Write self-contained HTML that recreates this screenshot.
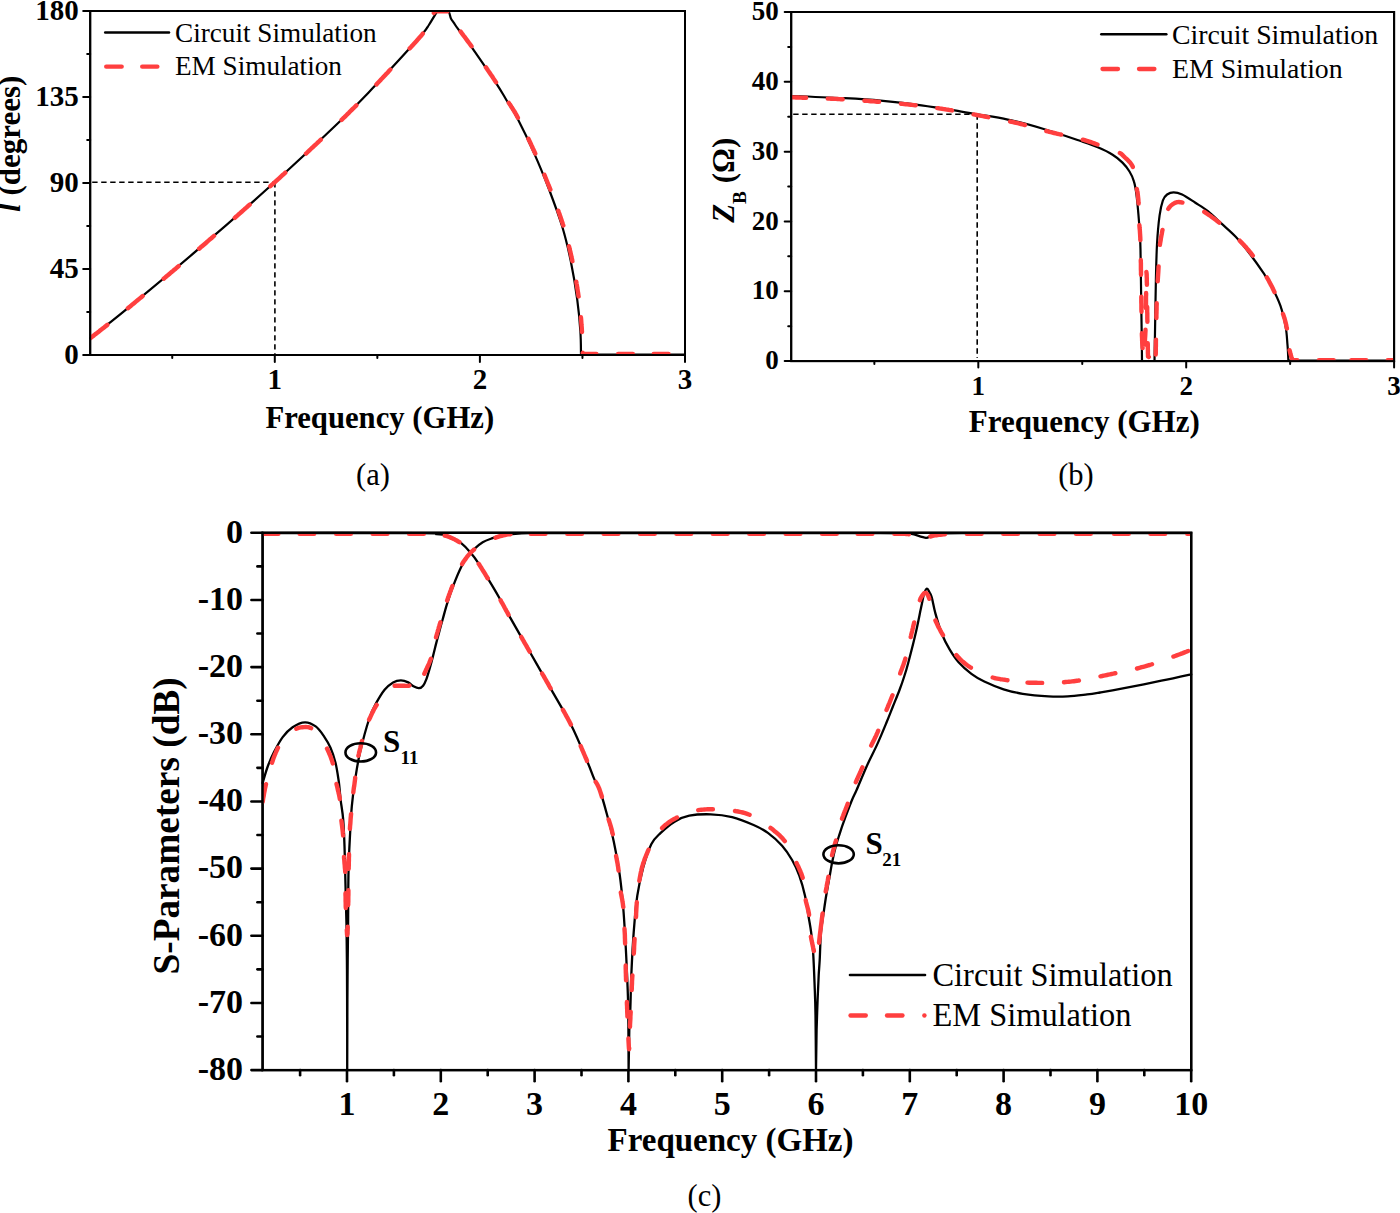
<!DOCTYPE html>
<html><head><meta charset="utf-8"><style>
html,body{margin:0;padding:0;background:#fff;}
body{width:1400px;height:1213px;overflow:hidden;}
svg{display:block;font-family:"Liberation Serif",serif;}
</style></head><body>
<svg width="1400" height="1213" viewBox="0 0 1400 1213">
<rect width="1400" height="1213" fill="#fff"/>
<defs><clipPath id="ca"><rect x="90.2" y="11" width="594.8" height="344"/></clipPath><clipPath id="cb"><rect x="791.2" y="12" width="602.9" height="349.1"/></clipPath><clipPath id="cc"><rect x="262.6" y="533.2" width="928.6" height="536.9"/></clipPath></defs>
<rect x="90.20" y="11.00" width="594.80" height="344.00" fill="none" stroke="#000" stroke-width="2"/>
<line x1="83.20" y1="355.00" x2="90.20" y2="355.00" stroke="#000" stroke-width="2" stroke-linecap="round"/>
<text x="78.70" y="363.60" font-size="29" font-weight="bold" font-style="normal" text-anchor="end">0</text>
<line x1="83.20" y1="269.00" x2="90.20" y2="269.00" stroke="#000" stroke-width="2" stroke-linecap="round"/>
<text x="78.70" y="277.60" font-size="29" font-weight="bold" font-style="normal" text-anchor="end">45</text>
<line x1="83.20" y1="183.00" x2="90.20" y2="183.00" stroke="#000" stroke-width="2" stroke-linecap="round"/>
<text x="78.70" y="191.60" font-size="29" font-weight="bold" font-style="normal" text-anchor="end">90</text>
<line x1="83.20" y1="97.00" x2="90.20" y2="97.00" stroke="#000" stroke-width="2" stroke-linecap="round"/>
<text x="78.70" y="105.60" font-size="29" font-weight="bold" font-style="normal" text-anchor="end">135</text>
<line x1="83.20" y1="11.00" x2="90.20" y2="11.00" stroke="#000" stroke-width="2" stroke-linecap="round"/>
<text x="78.70" y="19.60" font-size="29" font-weight="bold" font-style="normal" text-anchor="end">180</text>
<line x1="87.20" y1="312.00" x2="90.20" y2="312.00" stroke="#000" stroke-width="2" stroke-linecap="round"/>
<line x1="87.20" y1="226.00" x2="90.20" y2="226.00" stroke="#000" stroke-width="2" stroke-linecap="round"/>
<line x1="87.20" y1="140.00" x2="90.20" y2="140.00" stroke="#000" stroke-width="2" stroke-linecap="round"/>
<line x1="87.20" y1="54.00" x2="90.20" y2="54.00" stroke="#000" stroke-width="2" stroke-linecap="round"/>
<line x1="274.79" y1="355.00" x2="274.79" y2="362.00" stroke="#000" stroke-width="2" stroke-linecap="round"/>
<text x="274.79" y="388.60" font-size="29" font-weight="bold" font-style="normal" text-anchor="middle">1</text>
<line x1="479.90" y1="355.00" x2="479.90" y2="362.00" stroke="#000" stroke-width="2" stroke-linecap="round"/>
<text x="479.90" y="388.60" font-size="29" font-weight="bold" font-style="normal" text-anchor="middle">2</text>
<line x1="685.00" y1="355.00" x2="685.00" y2="362.00" stroke="#000" stroke-width="2" stroke-linecap="round"/>
<text x="685.00" y="388.60" font-size="29" font-weight="bold" font-style="normal" text-anchor="middle">3</text>
<line x1="172.24" y1="355.00" x2="172.24" y2="358.00" stroke="#000" stroke-width="2" stroke-linecap="round"/>
<line x1="377.34" y1="355.00" x2="377.34" y2="358.00" stroke="#000" stroke-width="2" stroke-linecap="round"/>
<line x1="582.45" y1="355.00" x2="582.45" y2="358.00" stroke="#000" stroke-width="2" stroke-linecap="round"/>
<line x1="92.20" y1="182.20" x2="274.90" y2="182.20" stroke="#000" stroke-width="1.6" stroke-linecap="butt" stroke-dasharray="5.4 3.6"/>
<line x1="274.90" y1="182.20" x2="274.90" y2="354.00" stroke="#000" stroke-width="1.6" stroke-linecap="butt" stroke-dasharray="5.4 3.6"/>
<path d="M90.2,338.0 C96.2,333.3 108.5,324.0 126.0,309.6 C143.5,295.2 170.6,272.9 195.4,251.7 C220.2,230.5 250.5,204.0 274.6,182.3 C298.7,160.6 323.3,137.3 340.0,121.3 C356.7,105.3 363.3,98.0 374.7,86.1 C386.1,74.2 400.0,59.0 408.1,50.1 C416.2,41.2 420.1,36.7 423.6,32.5 C427.1,28.3 427.1,27.7 428.9,25.0 C430.7,22.3 432.9,18.4 434.3,16.1 C435.7,13.9 436.6,12.3 437.0,11.5 L437.0,11.5 L448.5,11.5 L448.5,11.5 C448.7,11.8 449.1,12.3 449.5,13.5 C449.9,14.7 450.3,17.0 451.0,18.6 C451.7,20.2 452.7,21.1 453.9,22.9 C455.1,24.7 455.3,25.3 458.2,29.2 C461.1,33.1 464.9,37.4 471.1,46.3 C477.3,55.1 489.7,73.3 495.6,82.3 C501.5,91.2 502.8,94.0 506.4,100.0 C510.0,106.0 512.8,109.4 517.4,118.3 C522.0,127.2 529.0,141.7 534.3,153.6 C539.6,165.5 544.6,177.8 549.3,190.0 C553.9,202.2 558.6,214.7 562.2,226.5 C565.8,238.3 568.2,248.7 570.7,260.8 C573.2,272.9 575.6,287.6 577.2,299.4 C578.8,311.2 579.8,322.3 580.4,331.5 C581.0,340.7 580.9,350.7 581.0,354.5 L581.0,354.5 L685.0,354.5" fill="none" stroke="#000" stroke-width="2.2" stroke-linejoin="round" stroke-linecap="round"/>
<path d="M90.2,338.3 L91.5,337.2 L92.9,336.2 L94.1,335.2 L95.5,334.1 L96.7,333.2 L98.0,332.2 L99.3,331.2 L100.7,330.0 L102.2,328.9 L103.4,327.9 L104.7,326.9 L105.0,326.7 M92.5,336.5 L93.7,335.5 L95.0,334.5 L96.5,333.4 L97.7,332.4 L99.0,331.4 L100.4,330.3 L101.9,329.1 L103.1,328.2 L104.4,327.2 L105.7,326.1 L107.1,325.1 L107.4,324.8 M127.9,308.2 L129.1,307.2 L130.4,306.2 L131.7,305.1 L133.0,304.1 L134.3,303.0 L135.6,301.9 L137.0,300.7 L138.4,299.6 L139.8,298.4 L141.3,297.2 L142.4,296.3 L142.7,296.0 M163.7,278.7 L165.0,277.6 L166.3,276.5 L167.6,275.4 L169.0,274.3 L170.3,273.1 L171.6,272.0 L173.0,270.9 L174.3,269.8 L175.7,268.7 L177.0,267.5 L178.3,266.4 L178.7,266.1 M199.1,248.7 L200.3,247.7 L201.4,246.7 L202.6,245.7 L203.8,244.7 L205.0,243.7 L206.2,242.7 L207.3,241.6 L208.5,240.6 L209.7,239.5 L211.0,238.5 L212.2,237.5 L213.4,236.4 L214.0,235.9 M234.8,217.8 L236.0,216.7 L237.3,215.6 L238.5,214.5 L239.8,213.4 L241.0,212.3 L242.3,211.2 L243.5,210.1 L244.7,209.0 L246.0,207.9 L247.2,206.8 L248.4,205.7 L249.7,204.6 M270.4,186.2 L271.5,185.2 L272.7,184.1 L274.0,182.9 L275.2,181.8 L276.5,180.6 L277.8,179.5 L279.1,178.3 L280.4,177.1 L281.7,175.9 L283.0,174.7 L284.3,173.6 L285.3,172.7 M306.0,153.6 L307.2,152.5 L308.4,151.3 L309.6,150.2 L310.8,149.0 L312.0,147.9 L313.2,146.8 L314.4,145.7 L315.6,144.6 L316.8,143.5 L317.9,142.4 L319.1,141.3 L320.2,140.2 L320.8,139.7 M341.6,119.9 L342.8,118.7 L343.9,117.7 L345.0,116.6 L346.4,115.2 L347.7,113.9 L349.1,112.6 L350.3,111.3 L351.5,110.1 L352.7,108.9 L353.9,107.8 L355.0,106.7 L356.1,105.6 L356.4,105.3 M376.4,84.4 L377.5,83.2 L378.7,82.0 L379.9,80.8 L381.0,79.5 L382.2,78.3 L383.4,77.0 L384.6,75.7 L385.8,74.4 L387.0,73.2 L388.2,71.9 L389.4,70.6 L390.3,69.6 M409.7,48.4 L410.9,47.2 L411.9,46.0 L412.9,44.9 L414.2,43.5 L415.4,42.2 L416.5,41.0 L417.5,39.8 L418.7,38.5 L419.8,37.2 L420.9,36.0 L421.9,34.8 L422.8,33.6 M433.8,12.9 L434.3,11.4 L435.9,11.4 L437.6,11.4 L439.2,11.4 L440.9,11.4 L442.5,11.4 L444.1,11.4 L445.8,11.4 L447.4,11.4 M460.6,31.5 L461.5,32.8 L462.5,34.2 L463.6,35.6 L464.6,36.8 L465.6,38.2 L466.6,39.6 L467.7,41.1 L468.9,42.7 L469.9,44.0 L470.8,45.3 L471.5,46.3 M485.9,67.3 L486.9,68.8 L487.9,70.3 L488.9,71.7 L489.9,73.1 L490.8,74.5 L491.7,75.8 L492.6,77.1 L493.4,78.4 L494.4,79.9 L495.3,81.3 L496.0,82.3 M508.8,102.9 L509.8,104.4 L510.8,105.8 L511.7,107.3 L512.7,108.8 L513.5,110.1 L514.4,111.5 L515.3,113.0 L516.2,114.6 L517.2,116.4 L517.9,117.8 M528.4,138.7 L529.1,140.2 L529.8,141.8 L530.6,143.3 L531.3,144.9 L532.0,146.4 L532.7,148.0 L533.4,149.5 L534.1,151.0 L534.8,152.5 L535.3,153.6 M544.4,174.7 L545.0,176.2 L545.6,177.7 L546.2,179.2 L546.8,180.7 L547.4,182.2 L548.0,183.7 L548.6,185.2 L549.2,186.6 L549.8,188.1 L550.4,189.6 M558.3,210.7 L558.8,212.2 L559.4,213.7 L559.9,215.3 L560.4,216.8 L560.9,218.3 L561.4,219.8 L561.9,221.3 L562.4,222.8 L562.9,224.3 L563.3,225.4 M569.0,246.2 L569.4,247.7 L569.7,249.3 L570.1,250.8 L570.5,252.4 L570.8,253.9 L571.2,255.5 L571.5,257.1 L571.9,258.7 L572.2,260.4 L572.4,261.2 M576.3,281.7 L576.5,283.3 L576.8,285.0 L577.1,286.6 L577.3,288.2 L577.6,289.8 L577.8,291.4 L578.1,293.0 L578.3,294.5 L578.5,296.0 L578.6,296.4 M580.9,317.3 L581.1,318.9 L581.2,320.5 L581.3,322.0 L581.4,323.5 L581.5,325.1 L581.7,326.9 L581.8,328.7 L581.9,330.5 L582.0,332.0 M582.8,352.9 L584.0,354.0 L585.6,354.0 L587.2,354.0 L588.8,354.0 L590.4,354.0 L592.0,354.0 L593.6,354.0 L595.2,354.0 L596.4,354.0 M618.1,354.0 L619.7,354.0 L621.3,354.0 L622.9,354.0 L624.5,354.0 L626.1,354.0 L627.7,354.0 L629.3,354.0 L630.9,354.0 L632.5,354.0 L632.9,354.0 M653.7,354.0 L655.3,354.0 L656.9,354.0 L658.5,354.0 L660.2,354.0 L661.8,354.0 L663.4,354.0 L665.0,354.0 L666.6,354.0 L668.2,354.0 L668.6,354.0" fill="none" stroke="#ff3f3f" stroke-width="4.4" stroke-linecap="round" stroke-linejoin="round" clip-path="url(#ca)"/>
<rect x="90.20" y="11.00" width="594.80" height="344.00" fill="none" stroke="#000" stroke-width="2"/>
<line x1="105.20" y1="32.40" x2="169.00" y2="32.40" stroke="#000" stroke-width="2.5" stroke-linecap="round"/>
<line x1="106.20" y1="66.70" x2="121.70" y2="66.70" stroke="#ff3f3f" stroke-width="4.3" stroke-linecap="round"/>
<line x1="142.20" y1="66.70" x2="157.40" y2="66.70" stroke="#ff3f3f" stroke-width="4.3" stroke-linecap="round"/>
<text x="175.00" y="41.70" font-size="27.2" font-weight="normal" font-style="normal" text-anchor="start">Circuit Simulation</text>
<text x="175.00" y="74.90" font-size="27.2" font-weight="normal" font-style="normal" text-anchor="start">EM Simulation</text>
<text x="379.80" y="427.80" font-size="30.7" font-weight="bold" font-style="normal" text-anchor="middle">Frequency (GHz)</text>
<text x="373.00" y="485.00" font-size="30.5" font-weight="normal" font-style="normal" text-anchor="middle">(a)</text>
<text transform="translate(20.1,143.8) rotate(-90)" text-anchor="middle" font-size="31" font-weight="bold"><tspan font-style="italic">l</tspan> (degrees)</text>
<rect x="791.20" y="12.00" width="602.90" height="349.10" fill="none" stroke="#000" stroke-width="2"/>
<line x1="784.70" y1="361.10" x2="791.20" y2="361.10" stroke="#000" stroke-width="2" stroke-linecap="round"/>
<text x="778.70" y="369.30" font-size="27" font-weight="bold" font-style="normal" text-anchor="end">0</text>
<line x1="784.70" y1="291.28" x2="791.20" y2="291.28" stroke="#000" stroke-width="2" stroke-linecap="round"/>
<text x="778.70" y="299.48" font-size="27" font-weight="bold" font-style="normal" text-anchor="end">10</text>
<line x1="784.70" y1="221.46" x2="791.20" y2="221.46" stroke="#000" stroke-width="2" stroke-linecap="round"/>
<text x="778.70" y="229.66" font-size="27" font-weight="bold" font-style="normal" text-anchor="end">20</text>
<line x1="784.70" y1="151.64" x2="791.20" y2="151.64" stroke="#000" stroke-width="2" stroke-linecap="round"/>
<text x="778.70" y="159.84" font-size="27" font-weight="bold" font-style="normal" text-anchor="end">30</text>
<line x1="784.70" y1="81.82" x2="791.20" y2="81.82" stroke="#000" stroke-width="2" stroke-linecap="round"/>
<text x="778.70" y="90.02" font-size="27" font-weight="bold" font-style="normal" text-anchor="end">40</text>
<line x1="784.70" y1="12.00" x2="791.20" y2="12.00" stroke="#000" stroke-width="2" stroke-linecap="round"/>
<text x="778.70" y="20.20" font-size="27" font-weight="bold" font-style="normal" text-anchor="end">50</text>
<line x1="788.20" y1="326.19" x2="791.20" y2="326.19" stroke="#000" stroke-width="2" stroke-linecap="round"/>
<line x1="788.20" y1="256.37" x2="791.20" y2="256.37" stroke="#000" stroke-width="2" stroke-linecap="round"/>
<line x1="788.20" y1="186.55" x2="791.20" y2="186.55" stroke="#000" stroke-width="2" stroke-linecap="round"/>
<line x1="788.20" y1="116.73" x2="791.20" y2="116.73" stroke="#000" stroke-width="2" stroke-linecap="round"/>
<line x1="788.20" y1="46.91" x2="791.20" y2="46.91" stroke="#000" stroke-width="2" stroke-linecap="round"/>
<line x1="978.31" y1="361.10" x2="978.31" y2="367.60" stroke="#000" stroke-width="2" stroke-linecap="round"/>
<text x="978.31" y="395.00" font-size="27" font-weight="bold" font-style="normal" text-anchor="middle">1</text>
<line x1="1186.20" y1="361.10" x2="1186.20" y2="367.60" stroke="#000" stroke-width="2" stroke-linecap="round"/>
<text x="1186.20" y="395.00" font-size="27" font-weight="bold" font-style="normal" text-anchor="middle">2</text>
<line x1="1394.10" y1="361.10" x2="1394.10" y2="367.60" stroke="#000" stroke-width="2" stroke-linecap="round"/>
<text x="1394.10" y="395.00" font-size="27" font-weight="bold" font-style="normal" text-anchor="middle">3</text>
<line x1="874.36" y1="361.10" x2="874.36" y2="364.10" stroke="#000" stroke-width="2" stroke-linecap="round"/>
<line x1="1082.26" y1="361.10" x2="1082.26" y2="364.10" stroke="#000" stroke-width="2" stroke-linecap="round"/>
<line x1="1290.15" y1="361.10" x2="1290.15" y2="364.10" stroke="#000" stroke-width="2" stroke-linecap="round"/>
<line x1="793.20" y1="114.30" x2="977.20" y2="114.30" stroke="#000" stroke-width="1.6" stroke-linecap="butt" stroke-dasharray="5.4 3.6"/>
<line x1="977.20" y1="114.30" x2="977.20" y2="358.10" stroke="#000" stroke-width="1.6" stroke-linecap="butt" stroke-dasharray="5.4 3.6"/>
<path d="M791.2,96.0 C799.8,96.3 828.0,97.3 842.9,98.1 C857.8,98.9 867.5,99.4 880.6,100.6 C893.7,101.8 908.2,103.5 921.4,105.3 C934.6,107.1 950.7,109.8 960.0,111.3 C969.3,112.8 969.0,112.9 977.0,114.3 C985.0,115.7 996.7,117.1 1007.8,119.6 C1018.9,122.0 1031.7,125.5 1043.7,129.0 C1055.7,132.5 1071.0,137.8 1080.0,140.8 C1089.0,143.9 1092.4,145.0 1097.8,147.3 C1103.2,149.6 1108.5,152.1 1112.6,154.7 C1116.7,157.2 1119.7,159.8 1122.5,162.6 C1125.3,165.4 1127.6,168.4 1129.5,171.5 C1131.4,174.6 1132.8,177.6 1133.9,181.4 C1135.1,185.2 1135.7,188.9 1136.4,194.3 C1137.2,199.8 1137.8,207.5 1138.4,214.1 C1139.0,220.7 1139.5,227.9 1139.8,233.9 C1140.1,239.9 1140.3,239.0 1140.5,250.0 C1140.7,261.0 1141.0,285.0 1141.2,300.0 C1141.4,315.0 1141.7,329.8 1141.8,340.0 C1141.9,350.2 1142.0,357.5 1142.0,361.0 L1142.0,361.0 L1154.5,361.0 L1154.5,361.0 C1154.6,354.2 1155.0,333.6 1155.2,320.0 C1155.4,306.4 1155.6,292.2 1155.9,279.6 C1156.2,267.0 1156.4,255.0 1157.0,244.3 C1157.6,233.6 1158.6,222.7 1159.6,215.4 C1160.6,208.1 1161.7,203.9 1162.9,200.4 C1164.2,196.9 1165.3,195.8 1167.1,194.5 C1168.9,193.2 1171.1,192.3 1173.6,192.3 C1176.1,192.3 1178.5,192.8 1182.1,194.5 C1185.7,196.2 1190.7,199.7 1195.0,202.5 C1199.3,205.3 1203.6,207.7 1207.9,211.1 C1212.2,214.5 1216.1,218.6 1220.7,222.9 C1225.3,227.2 1230.7,231.5 1235.7,236.8 C1240.7,242.2 1246.1,248.9 1250.7,255.0 C1255.3,261.1 1260.1,268.0 1263.6,273.2 C1267.0,278.4 1268.6,280.6 1271.4,286.0 C1274.2,291.4 1278.0,298.8 1280.4,305.7 C1282.8,312.6 1284.5,320.6 1285.7,327.1 C1286.9,333.7 1287.0,339.4 1287.5,345.0 C1288.0,350.6 1288.2,357.9 1288.4,360.5 L1288.4,360.5 L1393.0,360.5" fill="none" stroke="#000" stroke-width="2.2" stroke-linejoin="round" stroke-linecap="round"/>
<path d="M791.2,97.3 L792.8,97.4 L794.4,97.4 L796.0,97.5 L797.7,97.5 L799.5,97.6 L801.1,97.6 L802.7,97.7 L804.4,97.7 L806.1,97.8 M791.4,97.3 L793.1,97.4 L794.7,97.4 L796.3,97.5 L798.1,97.5 L799.9,97.6 L801.5,97.6 L803.1,97.7 L804.8,97.8 L806.1,97.8 M827.7,98.6 L829.4,98.6 L831.1,98.7 L832.7,98.8 L834.3,98.9 L835.9,98.9 L837.6,99.0 L839.3,99.1 L841.0,99.2 L842.7,99.3 M864.4,100.7 L865.9,100.8 L867.5,100.9 L869.1,101.0 L870.7,101.2 L872.3,101.3 L873.9,101.4 L875.5,101.5 L877.1,101.7 L878.7,101.8 L879.1,101.8 M900.9,103.7 L902.5,103.9 L904.1,104.1 L905.7,104.2 L907.3,104.4 L908.9,104.6 L910.5,104.7 L912.1,104.9 L913.7,105.1 L915.3,105.3 L915.7,105.3 M937.3,108.1 L938.9,108.3 L940.5,108.6 L942.2,108.8 L943.8,109.1 L945.3,109.3 L946.9,109.6 L948.5,109.8 L950.1,110.1 L951.6,110.3 L952.0,110.4 M973.6,114.4 L975.1,114.7 L976.7,115.0 L978.3,115.3 L979.8,115.6 L981.4,115.9 L983.0,116.2 L984.6,116.5 L986.3,116.8 L987.9,117.1 L988.3,117.2 M1010.1,121.5 L1011.6,121.8 L1013.2,122.1 L1014.7,122.5 L1016.2,122.8 L1017.8,123.2 L1019.4,123.6 L1021.0,124.0 L1022.6,124.4 L1024.2,124.8 L1025.0,125.0 M1046.3,131.0 L1047.8,131.4 L1049.3,131.8 L1050.8,132.2 L1052.5,132.6 L1054.1,133.0 L1055.8,133.4 L1057.5,133.8 L1059.1,134.2 L1060.8,134.5 L1061.2,134.6 M1082.8,139.7 L1084.6,140.2 L1086.2,140.7 L1087.7,141.1 L1089.1,141.6 L1090.9,142.2 L1092.6,142.8 L1094.3,143.4 L1096.0,144.0 L1097.5,144.5 M1119.9,153.0 L1121.3,153.9 L1122.6,155.1 L1123.7,156.2 L1125.0,157.5 L1126.2,158.6 L1127.4,159.7 L1128.6,160.9 L1129.8,162.2 L1130.8,163.5 L1131.7,164.8 L1132.5,166.2 L1132.8,166.9 M1136.8,188.9 L1137.1,190.4 L1137.5,192.1 L1137.7,193.7 L1137.9,195.5 L1138.1,197.3 L1138.3,198.9 L1138.4,200.6 L1138.5,202.5 L1138.6,203.5 M1139.4,225.1 L1139.5,226.6 L1139.6,228.1 L1139.8,229.6 L1139.9,231.2 L1140.0,232.8 L1140.1,234.4 L1140.2,236.1 L1140.3,237.8 L1140.3,239.4 L1140.4,240.1 M1140.8,260.0 L1140.8,261.6 L1140.9,263.3 L1140.9,265.1 L1140.9,266.6 L1140.9,268.2 L1140.9,269.7 L1141.0,271.4 L1141.0,273.0 L1141.0,274.7 M1141.3,296.7 L1141.3,298.6 L1141.3,300.5 L1141.3,302.3 L1141.4,304.1 L1141.4,306.0 L1141.4,307.7 L1141.4,309.5 L1141.5,311.2 L1141.5,311.7 M1141.9,333.2 L1141.9,335.1 L1142.0,336.9 L1142.1,338.6 L1142.1,340.1 L1142.2,342.0 L1142.3,343.7 L1142.4,345.4 L1142.5,347.0 L1142.6,348.1 M1144.7,344.5 L1144.8,342.7 L1144.9,340.8 L1145.0,339.2 L1145.1,337.7 L1145.2,336.0 L1145.3,334.3 L1145.4,332.5 L1145.5,330.6 L1145.5,329.7 M1145.9,308.0 L1145.9,306.4 L1146.0,304.8 L1146.0,303.1 L1146.0,301.5 L1146.0,299.9 L1146.0,298.3 L1146.0,296.7 L1146.1,295.1 L1146.1,293.6 L1146.1,293.0 M1146.4,272.0 L1146.6,273.5 L1146.7,275.0 L1146.7,276.5 L1146.8,278.2 L1146.8,280.1 L1146.8,281.7 L1146.9,283.4 L1146.9,284.7 M1147.2,306.9 L1147.2,308.5 L1147.2,310.1 L1147.2,311.7 L1147.3,313.2 L1147.3,314.7 L1147.3,316.7 L1147.3,318.6 L1147.4,320.5 L1147.4,321.8 M1147.7,343.1 L1147.8,344.9 L1147.8,346.6 L1147.8,348.2 L1147.9,350.0 L1147.9,351.6 L1147.9,353.1 L1148.0,354.7 L1148.0,356.4 L1148.8,357.0 M1155.7,354.5 L1155.8,353.0 L1155.8,351.3 L1155.8,349.4 L1155.8,347.8 L1155.9,346.1 L1155.9,344.4 L1155.9,342.6 L1155.9,340.8 L1156.0,339.8 M1156.4,318.1 L1156.4,316.3 L1156.4,314.6 L1156.5,312.9 L1156.5,311.2 L1156.6,309.5 L1156.6,307.8 L1156.6,306.1 L1156.7,304.5 L1156.7,303.3 M1157.7,281.3 L1157.8,279.7 L1157.9,278.1 L1158.0,276.5 L1158.1,275.0 L1158.2,273.5 L1158.3,272.0 L1158.4,270.1 L1158.5,268.3 L1158.6,266.4 M1159.9,244.9 L1160.1,243.3 L1160.4,241.6 L1160.7,240.0 L1160.9,238.3 L1161.2,236.8 L1161.5,235.2 L1161.8,233.7 L1162.1,231.9 L1162.4,230.4 L1162.5,230.0 M1168.3,208.9 L1169.2,207.5 L1170.2,206.3 L1171.3,205.2 L1172.7,204.2 L1174.2,203.3 L1175.7,202.6 L1177.2,202.1 L1178.8,202.0 L1180.3,202.2 L1182.1,202.5 L1182.4,202.6 M1204.3,211.8 L1205.8,212.8 L1207.1,213.7 L1208.4,214.6 L1209.7,215.5 L1211.1,216.4 L1212.4,217.4 L1213.9,218.5 L1215.3,219.6 L1216.8,220.7 L1218.1,221.7 L1219.2,222.6 M1239.8,240.7 L1240.9,241.9 L1242.1,243.1 L1243.2,244.2 L1244.2,245.4 L1245.3,246.5 L1246.3,247.6 L1247.3,248.8 L1248.3,250.0 L1249.3,251.2 L1250.3,252.4 L1251.3,253.7 L1252.3,255.0 L1252.8,255.6 M1266.8,277.3 L1267.7,278.8 L1268.5,280.2 L1269.2,281.6 L1270.0,283.1 L1270.7,284.5 L1271.5,285.8 L1272.2,287.2 L1272.8,288.6 L1273.5,290.0 L1274.2,291.4 L1274.5,292.1 M1283.0,313.9 L1283.5,315.4 L1284.0,316.9 L1284.5,318.3 L1284.9,319.8 L1285.3,321.3 L1285.7,322.9 L1286.1,324.5 L1286.4,326.2 L1286.7,327.8 L1286.9,328.5 M1289.6,350.2 L1290.0,351.7 L1290.4,353.6 L1290.9,355.3 L1291.4,356.9 L1292.0,358.5 L1292.4,360.0 L1294.1,360.2 L1295.7,360.2 L1297.3,360.2 M1318.9,360.2 L1320.5,360.2 L1322.1,360.2 L1323.7,360.2 L1325.3,360.2 L1326.9,360.2 L1328.5,360.2 L1330.1,360.2 L1331.7,360.2 L1333.3,360.2 L1333.7,360.2 M1351.4,360.2 L1353.0,360.2 L1354.6,360.2 L1356.2,360.2 L1357.8,360.2 L1359.4,360.2 L1361.0,360.2 L1362.6,360.2 L1364.2,360.2 L1365.8,360.2 L1366.2,360.2 M1387.8,360.2 L1389.4,360.2 L1391.0,360.2 L1392.6,360.2 L1393.0,360.2" fill="none" stroke="#ff3f3f" stroke-width="4.4" stroke-linecap="round" stroke-linejoin="round" clip-path="url(#cb)"/>
<rect x="791.20" y="12.00" width="602.90" height="349.10" fill="none" stroke="#000" stroke-width="2"/>
<line x1="1101.30" y1="34.30" x2="1166.30" y2="34.30" stroke="#000" stroke-width="2.5" stroke-linecap="round"/>
<line x1="1102.50" y1="69.00" x2="1118.00" y2="69.00" stroke="#ff3f3f" stroke-width="4.3" stroke-linecap="round"/>
<line x1="1139.00" y1="69.00" x2="1154.40" y2="69.00" stroke="#ff3f3f" stroke-width="4.3" stroke-linecap="round"/>
<text x="1172.00" y="43.90" font-size="27.8" font-weight="normal" font-style="normal" text-anchor="start">Circuit Simulation</text>
<text x="1172.00" y="78.20" font-size="27.8" font-weight="normal" font-style="normal" text-anchor="start">EM Simulation</text>
<text x="1084.30" y="431.60" font-size="31" font-weight="bold" font-style="normal" text-anchor="middle">Frequency (GHz)</text>
<text x="1076.00" y="484.80" font-size="30.5" font-weight="normal" font-style="normal" text-anchor="middle">(b)</text>
<text transform="translate(733.8,180.3) rotate(-90)" text-anchor="middle" font-size="31" font-weight="bold"><tspan font-style="italic">Z</tspan><tspan font-size="19.3" dy="12.4">B</tspan><tspan dy="-12.4"> (Ω)</tspan></text>
<rect x="262.60" y="532.80" width="928.60" height="537.30" fill="none" stroke="#000" stroke-width="2.3"/>
<line x1="251.40" y1="532.80" x2="262.60" y2="532.80" stroke="#000" stroke-width="2.6" stroke-linecap="round"/>
<text transform="translate(243.10 542.60) scale(1 1.020)" font-size="34" font-weight="bold" font-style="normal" text-anchor="end">0</text>
<line x1="251.40" y1="599.96" x2="262.60" y2="599.96" stroke="#000" stroke-width="2.6" stroke-linecap="round"/>
<text transform="translate(243.10 609.76) scale(1 1.020)" font-size="34" font-weight="bold" font-style="normal" text-anchor="end">-10</text>
<line x1="251.40" y1="667.12" x2="262.60" y2="667.12" stroke="#000" stroke-width="2.6" stroke-linecap="round"/>
<text transform="translate(243.10 676.92) scale(1 1.020)" font-size="34" font-weight="bold" font-style="normal" text-anchor="end">-20</text>
<line x1="251.40" y1="734.29" x2="262.60" y2="734.29" stroke="#000" stroke-width="2.6" stroke-linecap="round"/>
<text transform="translate(243.10 744.09) scale(1 1.020)" font-size="34" font-weight="bold" font-style="normal" text-anchor="end">-30</text>
<line x1="251.40" y1="801.45" x2="262.60" y2="801.45" stroke="#000" stroke-width="2.6" stroke-linecap="round"/>
<text transform="translate(243.10 811.25) scale(1 1.020)" font-size="34" font-weight="bold" font-style="normal" text-anchor="end">-40</text>
<line x1="251.40" y1="868.61" x2="262.60" y2="868.61" stroke="#000" stroke-width="2.6" stroke-linecap="round"/>
<text transform="translate(243.10 878.41) scale(1 1.020)" font-size="34" font-weight="bold" font-style="normal" text-anchor="end">-50</text>
<line x1="251.40" y1="935.77" x2="262.60" y2="935.77" stroke="#000" stroke-width="2.6" stroke-linecap="round"/>
<text transform="translate(243.10 945.57) scale(1 1.020)" font-size="34" font-weight="bold" font-style="normal" text-anchor="end">-60</text>
<line x1="251.40" y1="1002.94" x2="262.60" y2="1002.94" stroke="#000" stroke-width="2.6" stroke-linecap="round"/>
<text transform="translate(243.10 1012.74) scale(1 1.020)" font-size="34" font-weight="bold" font-style="normal" text-anchor="end">-70</text>
<line x1="251.40" y1="1070.10" x2="262.60" y2="1070.10" stroke="#000" stroke-width="2.6" stroke-linecap="round"/>
<text transform="translate(243.10 1079.90) scale(1 1.020)" font-size="34" font-weight="bold" font-style="normal" text-anchor="end">-80</text>
<line x1="257.40" y1="566.38" x2="262.60" y2="566.38" stroke="#000" stroke-width="2.6" stroke-linecap="round"/>
<line x1="257.40" y1="633.54" x2="262.60" y2="633.54" stroke="#000" stroke-width="2.6" stroke-linecap="round"/>
<line x1="257.40" y1="700.71" x2="262.60" y2="700.71" stroke="#000" stroke-width="2.6" stroke-linecap="round"/>
<line x1="257.40" y1="767.87" x2="262.60" y2="767.87" stroke="#000" stroke-width="2.6" stroke-linecap="round"/>
<line x1="257.40" y1="835.03" x2="262.60" y2="835.03" stroke="#000" stroke-width="2.6" stroke-linecap="round"/>
<line x1="257.40" y1="902.19" x2="262.60" y2="902.19" stroke="#000" stroke-width="2.6" stroke-linecap="round"/>
<line x1="257.40" y1="969.36" x2="262.60" y2="969.36" stroke="#000" stroke-width="2.6" stroke-linecap="round"/>
<line x1="257.40" y1="1036.52" x2="262.60" y2="1036.52" stroke="#000" stroke-width="2.6" stroke-linecap="round"/>
<line x1="347.00" y1="1070.10" x2="347.00" y2="1081.20" stroke="#000" stroke-width="2.6" stroke-linecap="round"/>
<text transform="translate(347.00 1114.90) scale(1 1.020)" font-size="34" font-weight="bold" font-style="normal" text-anchor="middle">1</text>
<line x1="440.80" y1="1070.10" x2="440.80" y2="1081.20" stroke="#000" stroke-width="2.6" stroke-linecap="round"/>
<text transform="translate(440.80 1114.90) scale(1 1.020)" font-size="34" font-weight="bold" font-style="normal" text-anchor="middle">2</text>
<line x1="534.60" y1="1070.10" x2="534.60" y2="1081.20" stroke="#000" stroke-width="2.6" stroke-linecap="round"/>
<text transform="translate(534.60 1114.90) scale(1 1.020)" font-size="34" font-weight="bold" font-style="normal" text-anchor="middle">3</text>
<line x1="628.40" y1="1070.10" x2="628.40" y2="1081.20" stroke="#000" stroke-width="2.6" stroke-linecap="round"/>
<text transform="translate(628.40 1114.90) scale(1 1.020)" font-size="34" font-weight="bold" font-style="normal" text-anchor="middle">4</text>
<line x1="722.20" y1="1070.10" x2="722.20" y2="1081.20" stroke="#000" stroke-width="2.6" stroke-linecap="round"/>
<text transform="translate(722.20 1114.90) scale(1 1.020)" font-size="34" font-weight="bold" font-style="normal" text-anchor="middle">5</text>
<line x1="816.00" y1="1070.10" x2="816.00" y2="1081.20" stroke="#000" stroke-width="2.6" stroke-linecap="round"/>
<text transform="translate(816.00 1114.90) scale(1 1.020)" font-size="34" font-weight="bold" font-style="normal" text-anchor="middle">6</text>
<line x1="909.80" y1="1070.10" x2="909.80" y2="1081.20" stroke="#000" stroke-width="2.6" stroke-linecap="round"/>
<text transform="translate(909.80 1114.90) scale(1 1.020)" font-size="34" font-weight="bold" font-style="normal" text-anchor="middle">7</text>
<line x1="1003.60" y1="1070.10" x2="1003.60" y2="1081.20" stroke="#000" stroke-width="2.6" stroke-linecap="round"/>
<text transform="translate(1003.60 1114.90) scale(1 1.020)" font-size="34" font-weight="bold" font-style="normal" text-anchor="middle">8</text>
<line x1="1097.40" y1="1070.10" x2="1097.40" y2="1081.20" stroke="#000" stroke-width="2.6" stroke-linecap="round"/>
<text transform="translate(1097.40 1114.90) scale(1 1.020)" font-size="34" font-weight="bold" font-style="normal" text-anchor="middle">9</text>
<line x1="1191.20" y1="1070.10" x2="1191.20" y2="1081.20" stroke="#000" stroke-width="2.6" stroke-linecap="round"/>
<text transform="translate(1191.20 1114.90) scale(1 1.020)" font-size="34" font-weight="bold" font-style="normal" text-anchor="middle">10</text>
<line x1="300.10" y1="1070.10" x2="300.10" y2="1075.30" stroke="#000" stroke-width="2.6" stroke-linecap="round"/>
<line x1="393.90" y1="1070.10" x2="393.90" y2="1075.30" stroke="#000" stroke-width="2.6" stroke-linecap="round"/>
<line x1="487.70" y1="1070.10" x2="487.70" y2="1075.30" stroke="#000" stroke-width="2.6" stroke-linecap="round"/>
<line x1="581.50" y1="1070.10" x2="581.50" y2="1075.30" stroke="#000" stroke-width="2.6" stroke-linecap="round"/>
<line x1="675.30" y1="1070.10" x2="675.30" y2="1075.30" stroke="#000" stroke-width="2.6" stroke-linecap="round"/>
<line x1="769.10" y1="1070.10" x2="769.10" y2="1075.30" stroke="#000" stroke-width="2.6" stroke-linecap="round"/>
<line x1="862.90" y1="1070.10" x2="862.90" y2="1075.30" stroke="#000" stroke-width="2.6" stroke-linecap="round"/>
<line x1="956.70" y1="1070.10" x2="956.70" y2="1075.30" stroke="#000" stroke-width="2.6" stroke-linecap="round"/>
<line x1="1050.50" y1="1070.10" x2="1050.50" y2="1075.30" stroke="#000" stroke-width="2.6" stroke-linecap="round"/>
<line x1="1144.30" y1="1070.10" x2="1144.30" y2="1075.30" stroke="#000" stroke-width="2.6" stroke-linecap="round"/>
<path d="M262.6,783.0 C263.5,780.2 265.9,771.3 267.9,766.0 C269.9,760.7 272.0,755.9 274.5,751.1 C277.0,746.3 279.7,741.1 282.7,737.1 C285.7,733.1 288.9,729.7 292.6,727.2 C296.3,724.7 301.1,722.4 305.0,722.3 C308.9,722.2 312.5,724.1 315.7,726.4 C318.9,728.7 321.5,732.7 324.0,736.3 C326.5,739.9 328.6,743.4 330.5,747.8 C332.4,752.2 334.1,757.2 335.5,762.7 C336.9,768.2 337.8,774.8 338.7,781.0 C339.6,787.2 339.9,793.4 340.6,799.8 C341.4,806.2 342.6,811.9 343.2,819.6 C343.8,827.3 344.2,837.2 344.5,846.0 C344.8,854.8 345.0,863.5 345.2,872.3 C345.4,881.1 345.6,889.9 345.8,898.7 C346.0,907.5 346.3,914.9 346.5,925.1 C346.7,935.3 346.8,947.5 346.9,960.0 C347.0,972.5 347.1,981.7 347.1,1000.0 C347.2,1018.3 347.2,1058.3 347.2,1070.0 L347.4,1000.0 C347.4,993.3 347.6,972.5 347.7,960.0 C347.8,947.5 348.0,939.6 348.1,925.0 C348.2,910.4 348.2,886.6 348.5,872.3 C348.8,858.0 349.2,850.4 349.8,839.4 C350.4,828.4 350.9,816.3 351.8,806.4 C352.7,796.5 353.7,789.0 355.1,780.0 C356.5,771.0 357.6,762.8 360.0,752.5 C362.4,742.2 366.6,726.7 369.3,718.5 C372.0,710.3 373.4,708.2 376.0,703.4 C378.6,698.6 381.8,693.2 384.6,689.7 C387.5,686.2 390.4,684.0 393.1,682.4 C395.8,680.8 398.4,680.3 400.9,680.3 C403.4,680.3 406.0,681.3 408.2,682.4 C410.4,683.5 412.2,685.6 414.0,686.6 C415.8,687.6 417.5,688.4 419.0,688.2 C420.5,688.1 421.9,687.2 423.1,685.7 C424.3,684.2 425.3,682.0 426.4,679.1 C427.5,676.2 428.6,672.2 429.7,668.4 C430.8,664.6 431.9,660.4 433.0,656.1 C434.1,651.9 435.2,647.2 436.3,642.9 C437.4,638.6 438.6,634.3 439.6,630.5 C440.6,626.7 441.2,624.5 442.5,620.0 C443.8,615.5 445.3,609.2 447.2,603.3 C449.1,597.4 451.5,590.4 453.8,584.4 C456.1,578.4 458.9,571.7 461.2,567.0 C463.5,562.3 465.6,559.3 467.8,556.3 C470.0,553.3 471.9,551.2 474.4,548.9 C476.9,546.6 479.7,544.1 482.7,542.3 C485.7,540.5 489.2,539.4 492.5,538.2 C495.8,537.0 499.2,535.6 502.4,534.9 C505.6,534.2 506.9,534.4 511.5,534.1 C516.1,533.8 521.9,533.4 530.0,533.2 C538.1,533.0 555.0,533.1 560.0,533.1 L560.0,533.1 L880.0,533.1 L880.0,533.1 C884.2,533.1 899.5,533.1 905.0,533.3 C910.5,533.5 909.5,533.5 913.0,534.2 C916.5,535.0 922.8,537.7 926.0,537.8 C929.2,537.9 928.8,535.8 932.0,535.0 C935.2,534.2 938.7,533.6 945.0,533.3 C951.3,533.0 965.8,533.1 970.0,533.1 L970.0,533.1 L1191.2,533.1" fill="none" stroke="#000" stroke-width="2.3" stroke-linejoin="round" stroke-linecap="round"/>
<path d="M262.6,533.1 C288.8,533.1 391.0,532.9 420.0,533.1 C449.0,533.3 432.4,533.8 436.5,534.1 C440.6,534.4 441.9,534.2 444.7,534.9 C447.4,535.6 450.2,536.8 453.0,538.2 C455.8,539.6 458.4,540.9 461.2,543.1 C463.9,545.3 466.8,548.2 469.5,551.4 C472.2,554.6 474.6,557.4 477.7,562.1 C480.8,566.8 484.8,573.5 488.4,579.4 C492.0,585.3 495.6,591.3 499.1,597.5 C502.6,603.7 504.3,607.2 509.5,616.4 C514.7,625.6 523.4,640.7 530.3,652.8 C537.2,664.9 544.2,677.1 551.0,689.1 C557.8,701.1 564.8,712.5 570.9,724.6 C577.0,736.7 583.5,752.7 587.4,761.8 C591.3,770.9 592.2,774.4 594.3,779.1 C596.3,783.8 597.6,784.3 599.7,790.0 C601.8,795.7 604.4,804.9 606.7,813.5 C609.1,822.1 611.6,831.5 613.8,841.7 C616.0,851.9 618.1,863.6 619.7,874.6 C621.3,885.6 622.2,896.1 623.2,907.5 C624.2,918.9 624.8,931.0 625.5,942.7 C626.2,954.4 626.7,966.2 627.2,977.9 C627.7,989.6 628.1,997.6 628.3,1013.0 C628.5,1028.3 628.5,1060.5 628.6,1070.0 L629.3,1030.0 C629.4,1027.2 629.9,1022.7 630.2,1013.2 C630.6,1003.7 630.8,986.9 631.4,973.2 C632.0,959.5 632.8,943.8 633.8,930.9 C634.8,918.0 635.7,906.3 637.3,895.7 C638.9,885.1 640.9,876.1 643.2,867.5 C645.6,858.9 648.5,849.8 651.4,844.0 C654.3,838.2 656.8,836.7 660.7,832.9 C664.6,829.1 670.2,824.3 675.0,821.4 C679.8,818.5 683.3,816.9 689.3,815.7 C695.2,814.5 703.6,814.1 710.7,814.3 C717.8,814.5 725.0,815.3 732.1,817.1 C739.2,818.9 747.6,822.4 753.6,825.0 C759.6,827.6 763.1,829.4 767.9,832.9 C772.6,836.4 778.1,841.2 782.1,845.7 C786.1,850.2 789.2,855.0 792.1,860.0 C795.0,865.0 797.1,869.8 799.3,875.7 C801.4,881.7 803.5,889.0 805.0,895.7 C806.5,902.5 807.5,910.2 808.5,916.2 C809.5,922.2 810.3,926.1 811.1,932.0 C811.9,937.9 812.5,943.0 813.1,951.8 C813.7,960.6 814.2,974.5 814.6,985.0 C815.0,995.5 815.3,1000.8 815.5,1015.0 C815.7,1029.2 815.9,1060.8 816.0,1070.0 L816.6,1030.0 C816.8,1025.0 817.2,1009.2 817.6,1000.0 C818.0,990.8 818.4,981.7 818.7,975.0 C819.1,968.3 819.3,967.2 819.7,960.0 C820.1,952.8 820.3,940.0 821.0,932.0 C821.7,924.0 822.8,918.4 823.7,912.2 C824.6,906.0 825.3,900.9 826.3,895.0 C827.3,889.1 828.6,882.1 829.6,876.6 C830.6,871.1 831.2,866.9 832.2,862.0 C833.2,857.1 834.3,852.1 835.5,847.5 C836.7,842.9 837.9,839.3 839.5,834.3 C841.1,829.2 843.3,822.9 845.4,817.2 C847.5,811.5 850.1,804.5 852.0,800.0 C853.9,795.5 854.2,795.5 856.6,790.0 C859.0,784.5 863.1,774.3 866.5,766.7 C869.9,759.1 873.9,751.7 877.2,744.4 C880.5,737.1 883.7,729.3 886.3,723.0 C888.9,716.7 890.7,712.0 892.9,706.5 C895.1,701.0 897.6,695.0 899.5,690.0 C901.4,685.0 902.8,681.0 904.2,676.5 C905.7,672.0 906.4,669.9 908.2,663.0 C910.0,656.1 913.1,644.5 915.2,635.3 C917.4,626.1 919.6,614.5 921.1,607.6 C922.6,600.7 923.1,596.9 924.1,593.7 C925.1,590.5 926.1,588.8 927.0,588.6 C927.9,588.4 928.8,591.0 929.6,592.5 C930.4,594.0 930.8,594.0 931.8,597.5 C932.8,601.0 933.7,607.3 935.4,613.4 C937.1,619.5 939.5,628.0 941.9,634.0 C944.3,640.0 946.8,644.7 949.6,649.4 C952.4,654.1 955.0,658.2 958.6,662.3 C962.2,666.4 967.1,670.6 971.4,673.8 C975.7,677.0 978.9,678.9 984.3,681.5 C989.7,684.1 997.2,687.2 1003.6,689.3 C1010.0,691.3 1015.3,692.6 1022.8,693.8 C1030.3,695.0 1041.0,695.9 1048.5,696.3 C1056.0,696.7 1061.4,696.6 1067.8,696.3 C1074.2,696.0 1081.7,695.0 1087.1,694.4 C1092.5,693.8 1094.0,693.5 1100.0,692.5 C1106.0,691.5 1112.7,690.4 1122.9,688.4 C1133.1,686.4 1150.0,683.1 1161.4,680.7 C1172.8,678.4 1186.2,675.4 1191.2,674.3" fill="none" stroke="#000" stroke-width="2.3" stroke-linejoin="round" stroke-linecap="round"/>
<path d="M262.6,802.0 L262.9,800.5 L263.1,798.9 L263.4,797.4 L263.7,795.8 L264.0,794.0 L264.3,792.2 L264.7,790.3 L265.0,788.5 L265.3,787.1 M263.1,798.9 L263.4,797.4 L263.7,795.8 L264.0,794.0 L264.3,792.2 L264.7,790.3 L265.0,788.5 L265.4,786.7 L265.8,784.9 L266.0,784.2 M272.0,762.7 L272.6,761.0 L273.1,759.4 L273.7,757.8 L274.3,756.3 L274.9,754.7 L275.5,753.3 L276.1,751.8 L276.7,750.5 L277.5,748.8 L278.0,747.8 M296.3,728.7 L297.9,728.1 L299.4,727.7 L300.9,727.4 L302.5,727.2 L304.1,727.1 L305.7,727.0 L307.3,727.1 L308.9,727.3 L310.4,727.8 L311.1,728.2 M327.0,748.6 L327.7,750.0 L328.3,751.4 L329.0,752.9 L329.6,754.4 L330.3,755.9 L330.9,757.5 L331.4,759.1 L332.0,760.7 L332.5,762.3 L332.8,763.4 M336.5,784.0 L336.9,785.6 L337.3,787.2 L337.6,788.8 L338.0,790.4 L338.4,791.9 L338.7,793.5 L339.1,795.0 L339.4,796.6 L339.7,798.2 L339.8,799.0 M341.4,820.7 L341.6,822.3 L341.8,823.9 L342.0,825.5 L342.2,827.1 L342.4,828.7 L342.6,830.3 L342.8,831.9 L342.9,833.5 L343.1,835.1 L343.1,835.5 M344.0,856.9 L344.1,858.5 L344.3,860.1 L344.4,861.7 L344.5,863.3 L344.7,864.9 L344.8,866.5 L344.9,868.1 L345.1,869.7 L345.2,871.4 L345.2,871.9 M345.5,893.3 L345.5,895.0 L345.6,896.7 L345.6,898.3 L345.6,899.9 L345.6,901.4 L345.7,902.9 L345.7,904.5 L345.7,906.0 L345.8,907.6 L345.8,908.0 M346.8,929.9 L346.9,931.9 L347.0,933.6 L347.1,935.1 L347.5,933.6 L347.5,931.9 L347.6,929.9 L347.7,928.3 L347.7,926.7 M348.2,905.0 L348.2,903.3 L348.3,901.7 L348.3,900.0 L348.3,898.4 L348.3,896.8 L348.4,895.1 L348.4,893.5 L348.4,891.9 L348.4,890.3 M348.7,868.8 L348.7,867.2 L348.8,865.6 L348.8,864.0 L348.8,862.4 L348.9,860.9 L348.9,859.4 L348.9,857.8 L349.0,856.2 L349.0,854.5 L349.0,854.1 M349.9,828.9 L350.0,827.3 L350.1,825.7 L350.3,824.1 L350.4,822.5 L350.5,820.9 L350.6,819.3 L350.7,817.7 L350.9,816.1 L351.0,814.4 L351.1,814.0 M353.3,792.4 L353.5,790.7 L353.7,789.1 L353.9,787.5 L354.2,786.0 L354.4,784.4 L354.6,782.9 L354.8,781.3 L355.0,779.7 L355.2,778.0 L355.2,777.6 M358.4,755.8 L358.8,754.2 L359.1,752.6 L359.5,751.0 L359.9,749.5 L360.3,748.0 L360.6,746.5 L361.0,745.0 L361.4,743.3 L361.8,741.7 L362.0,740.9 M369.1,719.7 L369.7,718.3 L370.4,716.9 L371.1,715.4 L371.8,713.9 L372.5,712.4 L373.3,710.9 L374.0,709.4 L374.8,708.0 L375.6,706.7 L376.4,705.3 L376.7,704.9 M394.6,685.8 L396.1,685.7 L397.6,685.7 L399.2,685.7 L400.8,685.7 L402.4,685.7 L404.1,685.8 L405.8,685.9 L407.5,685.9 L409.0,685.7 L409.4,685.6 M424.3,673.7 L425.0,672.3 L425.7,670.7 L426.5,669.1 L427.2,667.5 L427.8,666.1 L428.5,664.7 L429.1,663.3 L429.7,661.8 L430.3,660.3 L430.9,658.7 M436.0,637.3 L436.5,635.5 L437.0,633.8 L437.5,632.1 L437.9,630.6 L438.4,629.1 L438.8,627.5 L439.3,625.9 L439.8,624.1 L440.4,622.3 M447.1,600.6 L447.6,599.1 L448.1,597.6 L448.7,596.0 L449.2,594.5 L449.8,593.0 L450.3,591.5 L450.9,590.0 L451.4,588.5 L452.0,587.0 L452.4,585.9 M462.1,564.1 L462.9,562.7 L463.8,561.3 L464.7,560.1 L465.8,558.6 L466.8,557.1 L467.8,555.9 L468.9,554.6 L470.0,553.3 L471.1,552.2 L472.3,551.1 L473.5,550.0 L474.1,549.5 M495.6,537.7 L497.1,537.2 L498.6,536.7 L500.2,536.2 L501.7,535.8 L503.2,535.4 L504.9,535.0 L506.6,534.6 L508.5,534.4 L510.4,534.2 M530.7,533.8 L532.5,533.8 L534.1,533.8 L535.7,533.8 L537.5,533.8 L539.3,533.8 L541.2,533.7 L543.1,533.7 L545.0,533.7 L545.5,533.7 M567.2,533.7 L568.8,533.7 L570.4,533.7 L572.0,533.7 L573.6,533.7 L575.2,533.7 L576.8,533.7 L578.4,533.7 L580.0,533.7 L581.6,533.7 L582.0,533.7 M603.6,533.7 L605.2,533.7 L606.8,533.7 L608.4,533.7 L610.0,533.7 L611.6,533.7 L613.2,533.7 L614.8,533.7 L616.4,533.7 L618.0,533.7 L618.4,533.7 M640.0,533.7 L641.6,533.7 L643.2,533.7 L644.8,533.7 L646.4,533.7 L648.0,533.7 L649.6,533.7 L651.2,533.7 L652.8,533.7 L654.4,533.7 L654.8,533.7 M676.4,533.7 L678.0,533.7 L679.6,533.7 L681.2,533.7 L682.8,533.7 L684.4,533.7 L686.0,533.7 L687.6,533.7 L689.2,533.7 L690.8,533.7 L691.2,533.7 M712.8,533.7 L714.4,533.7 L716.0,533.7 L717.6,533.7 L719.2,533.7 L720.8,533.7 L722.4,533.7 L724.0,533.7 L725.6,533.7 L727.2,533.7 L727.6,533.7 M749.2,533.7 L750.8,533.7 L752.4,533.7 L754.0,533.7 L755.6,533.7 L757.2,533.7 L758.8,533.7 L760.4,533.7 L762.0,533.7 L763.6,533.7 L764.0,533.7 M785.6,533.7 L787.2,533.7 L788.8,533.7 L790.4,533.7 L792.0,533.7 L793.6,533.7 L795.2,533.7 L796.8,533.7 L798.4,533.7 L800.0,533.7 L800.4,533.7 M822.0,533.7 L823.6,533.7 L825.2,533.7 L826.8,533.7 L828.4,533.7 L830.0,533.7 L831.6,533.7 L833.2,533.7 L834.8,533.7 L836.4,533.7 L836.8,533.7 M857.6,533.7 L859.2,533.7 L860.8,533.7 L862.4,533.7 L864.0,533.7 L865.6,533.7 L867.2,533.7 L868.8,533.7 L870.4,533.7 L872.0,533.7 L872.4,533.7 M894.3,533.7 L896.2,533.7 L898.1,533.7 L899.9,533.8 L901.5,533.8 L903.1,533.8 L904.7,533.9 L906.3,534.0 L908.0,534.1 L908.9,534.2 M930.4,536.5 L931.9,536.1 L933.6,535.7 L935.3,535.4 L937.1,535.2 L938.9,534.9 L940.5,534.7 L942.1,534.5 L943.7,534.3 L945.0,534.2 M966.8,533.7 L968.5,533.7 L970.0,533.7 L971.6,533.7 L973.2,533.7 L974.8,533.7 L976.4,533.7 L978.0,533.7 L979.6,533.7 L981.2,533.7 L981.6,533.7 M1003.2,533.7 L1004.8,533.7 L1006.4,533.7 L1008.0,533.7 L1009.6,533.7 L1011.2,533.7 L1012.8,533.7 L1014.4,533.7 L1016.0,533.7 L1017.6,533.7 L1018.0,533.7 M1039.6,533.7 L1041.2,533.7 L1042.8,533.7 L1044.4,533.7 L1046.0,533.7 L1047.6,533.7 L1049.2,533.7 L1050.8,533.7 L1052.4,533.7 L1054.0,533.7 L1054.4,533.7 M1076.0,533.7 L1077.6,533.7 L1079.2,533.7 L1080.8,533.7 L1082.4,533.7 L1084.0,533.7 L1085.6,533.7 L1087.2,533.7 L1088.8,533.7 L1090.4,533.7 L1090.8,533.7 M1114.0,533.7 L1115.6,533.7 L1117.2,533.7 L1118.8,533.7 L1120.4,533.7 L1122.0,533.7 L1123.6,533.7 L1125.2,533.7 L1126.8,533.7 L1128.4,533.7 L1128.8,533.7 M1150.4,533.7 L1152.0,533.7 L1153.6,533.7 L1155.2,533.7 L1156.8,533.7 L1158.4,533.7 L1160.0,533.7 L1161.6,533.7 L1163.2,533.7 L1164.8,533.7 L1165.2,533.7 M1187.2,533.7 L1188.8,533.7 L1190.4,533.7 L1191.2,533.7" fill="none" stroke="#ff3f3f" stroke-width="4.4" stroke-linecap="round" stroke-linejoin="round" clip-path="url(#cc)"/>
<path d="M262.6,533.7 L264.3,533.7 L265.9,533.7 L267.4,533.7 L269.0,533.7 L270.7,533.7 L272.5,533.7 L274.1,533.7 L275.7,533.7 L277.3,533.7 M263.4,533.7 L265.0,533.7 L266.7,533.7 L268.2,533.7 L269.9,533.7 L271.6,533.7 L273.1,533.7 L274.7,533.7 L276.3,533.7 L278.0,533.7 L278.4,533.7 M299.6,533.7 L301.4,533.7 L303.2,533.7 L305.0,533.7 L306.8,533.7 L308.6,533.7 L310.5,533.7 L312.3,533.7 L314.2,533.7 M336.1,533.7 L338.0,533.7 L340.0,533.7 L342.0,533.7 L344.0,533.7 L346.0,533.7 L347.9,533.7 L349.9,533.7 L350.9,533.7 M372.6,533.7 L374.5,533.7 L376.3,533.7 L378.1,533.7 L379.9,533.7 L381.7,533.7 L383.5,533.7 L385.2,533.7 L387.0,533.7 L387.4,533.7 M409.0,533.7 L410.6,533.7 L412.1,533.7 L413.9,533.7 L415.6,533.7 L417.1,533.7 L418.9,533.7 L420.7,533.7 L422.7,533.7 L423.9,533.7 M444.7,535.5 L446.2,535.9 L447.7,536.4 L449.2,537.0 L450.7,537.6 L452.2,538.2 L453.7,538.9 L455.1,539.7 L456.6,540.4 L458.0,541.3 L459.4,542.2 M478.7,563.8 L479.7,565.3 L480.5,566.6 L481.4,568.0 L482.2,569.4 L483.1,570.8 L484.0,572.2 L484.9,573.7 L485.8,575.2 L486.7,576.6 L487.5,578.1 L487.8,578.4 M500.6,600.2 L501.4,601.8 L502.3,603.3 L503.1,604.8 L503.9,606.3 L504.8,608.0 L505.6,609.4 L506.4,610.9 L507.4,612.6 L508.1,613.9 L508.6,614.9 M521.2,636.9 L522.1,638.4 L522.9,639.9 L523.8,641.4 L524.6,642.9 L525.5,644.4 L526.4,645.9 L527.2,647.4 L528.1,648.9 L528.9,650.3 L529.7,651.7 M542.1,673.5 L542.9,674.9 L543.7,676.2 L544.5,677.6 L545.3,679.0 L546.1,680.4 L546.9,681.8 L547.7,683.2 L548.5,684.6 L549.2,686.0 L550.0,687.4 L550.6,688.4 M562.9,709.8 L563.7,711.2 L564.5,712.6 L565.3,714.0 L566.0,715.4 L566.8,716.8 L567.6,718.2 L568.3,719.6 L569.1,721.0 L569.8,722.4 L570.5,723.9 L570.9,724.6 M580.7,746.1 L581.4,747.7 L582.0,749.2 L582.7,750.7 L583.3,752.2 L583.9,753.6 L584.5,755.0 L585.2,756.7 L585.9,758.3 L586.6,759.8 L587.0,761.0 M595.7,781.9 L596.5,783.2 L597.4,784.7 L598.2,786.3 L598.9,787.9 L599.5,789.4 L600.0,790.9 L600.5,792.4 L601.1,794.2 L601.6,795.7 L601.9,796.8 M608.6,819.4 L609.2,821.2 L609.7,822.8 L610.1,824.3 L610.7,826.0 L611.2,827.8 L611.7,829.6 L612.0,831.1 L612.4,832.7 L612.8,834.2 M616.1,856.0 L616.4,857.6 L616.7,859.2 L617.0,860.7 L617.3,862.2 L617.6,863.8 L617.8,865.3 L618.1,866.9 L618.3,868.6 L618.5,870.3 L618.6,870.6 M620.8,892.4 L621.1,894.0 L621.4,895.6 L621.7,897.1 L622.0,898.6 L622.3,900.2 L622.5,901.7 L622.8,903.3 L623.0,905.0 L623.2,906.7 L623.3,907.0 M624.5,928.8 L624.6,930.5 L624.7,932.2 L624.8,933.9 L624.9,935.7 L624.9,937.4 L625.0,939.3 L625.0,940.9 L625.1,942.7 L625.1,943.6 M625.7,965.4 L625.7,967.2 L625.7,968.9 L625.8,970.7 L625.8,972.4 L625.9,974.1 L625.9,975.8 L626.0,977.5 L626.0,979.1 L626.1,980.3 M626.9,1001.9 L626.9,1003.6 L627.0,1005.2 L627.1,1006.8 L627.1,1008.3 L627.2,1009.8 L627.2,1011.7 L627.3,1013.5 L627.4,1015.2 L627.4,1016.5 M628.4,1038.5 L628.5,1040.7 L628.6,1042.5 L628.7,1044.2 L628.8,1046.1 L628.9,1047.6 L629.0,1049.2 L629.2,1048.2 M630.0,1026.7 L630.0,1025.0 L630.1,1023.3 L630.2,1021.7 L630.3,1020.0 L630.4,1018.3 L630.4,1016.7 L630.5,1015.1 L630.6,1013.5 L630.7,1011.9 M631.7,990.1 L631.8,988.4 L631.8,986.7 L631.9,985.1 L632.0,983.4 L632.0,981.8 L632.1,980.2 L632.2,978.6 L632.3,976.8 L632.4,975.5 M633.8,953.7 L633.9,952.0 L634.0,950.3 L634.1,948.6 L634.1,947.0 L634.2,945.3 L634.3,943.7 L634.4,942.1 L634.5,940.3 L634.6,939.0 M636.0,917.2 L636.1,915.5 L636.1,913.8 L636.2,912.1 L636.3,910.4 L636.4,908.7 L636.5,907.0 L636.6,905.4 L636.7,903.9 L636.8,902.3 M639.3,880.8 L639.6,879.2 L639.9,877.5 L640.2,875.9 L640.5,874.2 L640.8,872.6 L641.2,871.0 L641.5,869.4 L641.9,867.9 L642.3,866.3 L642.5,865.9 M642.8,864.6 L643.3,863.0 L643.9,861.4 L644.4,859.8 L645.0,858.2 L645.6,856.7 L646.2,855.2 L646.8,853.8 L647.5,852.1 L648.1,850.7 L648.5,849.8 M662.1,828.1 L663.1,827.0 L664.3,825.9 L665.6,824.8 L667.1,823.7 L668.4,822.6 L669.9,821.6 L671.2,820.7 L672.6,819.9 L674.2,819.0 L675.9,818.1 L677.0,817.6 M698.2,810.2 L699.8,809.9 L701.4,809.7 L702.9,809.6 L704.4,809.5 L706.0,809.4 L707.6,809.3 L709.2,809.3 L710.8,809.3 L712.5,809.3 L712.9,809.3 M735.0,811.0 L736.6,811.3 L738.1,811.5 L739.6,811.8 L741.2,812.1 L742.7,812.5 L744.2,812.9 L745.7,813.4 L747.2,813.9 L748.8,814.5 L749.6,814.8 M770.5,827.9 L771.8,828.8 L773.1,829.8 L774.3,830.9 L775.6,831.9 L776.8,833.0 L778.1,834.0 L779.3,835.1 L780.4,836.3 L781.6,837.4 L782.7,838.6 L783.7,839.8 L784.8,841.1 M796.5,863.0 L797.2,864.5 L798.0,866.0 L798.7,867.5 L799.3,869.0 L800.0,870.4 L800.6,871.9 L801.2,873.3 L801.7,874.8 L802.2,876.3 L802.7,877.8 M805.7,900.1 L806.0,901.7 L806.4,903.2 L806.8,904.8 L807.2,906.3 L807.6,907.8 L808.0,909.4 L808.4,910.9 L808.7,912.5 L809.0,914.1 L809.1,914.9 M810.9,936.6 L811.2,938.3 L811.5,940.0 L811.9,941.7 L812.2,943.4 L812.6,945.0 L812.9,946.5 L813.3,948.3 L813.7,949.9 L813.9,951.1 M819.0,942.7 L819.2,940.9 L819.4,939.2 L819.6,937.4 L819.8,935.6 L820.0,933.9 L820.2,932.3 L820.4,930.7 L820.6,929.0 L820.8,927.8 M820.7,928.2 L820.9,926.6 L821.1,925.0 L821.3,923.5 L821.5,921.9 L821.7,920.4 L821.9,918.8 L822.1,917.2 L822.3,915.6 L822.5,913.9 L822.6,913.5 M825.7,891.6 L826.0,890.0 L826.3,888.4 L826.6,886.9 L826.8,885.4 L827.1,883.9 L827.4,882.4 L827.7,880.9 L828.0,879.2 L828.3,877.5 L828.4,876.8 M832.0,855.2 L832.4,853.7 L832.8,852.1 L833.2,850.6 L833.6,849.1 L834.0,847.6 L834.4,846.1 L834.8,844.5 L835.2,843.0 L835.7,841.3 L835.9,840.5 M842.0,818.7 L842.5,817.2 L843.1,815.7 L843.6,814.3 L844.2,812.9 L844.7,811.4 L845.3,810.0 L845.9,808.5 L846.5,807.0 L847.1,805.4 L847.7,803.9 M855.8,782.2 L856.4,780.7 L857.1,779.3 L857.7,777.9 L858.3,776.5 L859.0,775.1 L859.6,773.7 L860.3,772.3 L860.9,770.8 L861.6,769.2 L862.2,767.8 L862.4,767.4 M871.2,745.6 L871.9,744.1 L872.6,742.7 L873.3,741.3 L874.0,739.9 L874.7,738.5 L875.4,737.1 L876.1,735.6 L876.7,734.1 L877.4,732.6 L878.0,731.2 L878.2,730.8 M886.5,710.0 L887.1,708.5 L887.7,707.1 L888.3,705.6 L888.9,704.2 L889.5,702.8 L890.1,701.3 L890.7,699.8 L891.3,698.3 L891.9,696.8 L892.5,695.2 M900.2,673.4 L900.7,671.8 L901.3,670.3 L901.9,668.9 L902.4,667.4 L903.0,665.9 L903.5,664.5 L904.0,663.0 L904.5,661.4 L905.1,659.8 L905.4,658.6 M910.7,637.1 L911.1,635.5 L911.4,634.0 L911.8,632.5 L912.2,631.0 L912.5,629.5 L912.9,628.0 L913.2,626.5 L913.6,624.9 L914.0,623.2 L914.2,622.4 M919.9,600.2 L920.5,598.6 L921.2,597.2 L922.3,595.6 L923.4,594.0 L924.5,592.9 L926.3,593.0 L927.5,594.5 L928.3,596.1 L929.0,597.9 L929.3,598.8 M935.4,620.4 L936.0,621.8 L936.7,623.2 L937.3,624.6 L938.0,626.1 L938.8,627.6 L939.6,629.0 L940.4,630.6 L941.2,632.1 L942.1,633.6 L943.0,635.2 M956.3,655.0 L957.4,656.2 L958.5,657.4 L959.6,658.6 L960.7,659.7 L961.8,660.8 L962.9,661.8 L964.1,662.8 L965.3,663.8 L966.6,664.8 L967.9,665.7 L969.3,666.7 L970.6,667.5 L970.9,667.7 M992.7,677.5 L994.3,678.0 L995.8,678.3 L997.3,678.6 L998.9,678.9 L1000.4,679.2 L1001.9,679.4 L1003.5,679.6 L1005.1,679.8 L1006.7,680.1 L1007.5,680.2 M1027.5,682.6 L1029.3,682.7 L1031.3,682.8 L1032.9,682.8 L1034.5,682.8 L1036.3,682.8 L1038.0,682.9 L1039.9,682.9 L1041.4,682.9 L1042.2,682.9 M1064.0,682.2 L1065.6,682.0 L1067.3,681.9 L1069.0,681.7 L1070.6,681.6 L1072.2,681.4 L1073.8,681.2 L1075.3,681.0 L1076.9,680.8 L1078.5,680.6 L1078.9,680.5 M1100.5,676.3 L1102.1,676.0 L1103.7,675.6 L1105.3,675.3 L1106.8,675.0 L1108.4,674.6 L1110.0,674.3 L1111.6,674.0 L1113.1,673.7 L1114.7,673.3 L1115.4,673.2 M1137.0,668.5 L1138.6,668.1 L1140.1,667.7 L1141.7,667.2 L1143.3,666.8 L1144.9,666.4 L1146.6,665.9 L1148.2,665.4 L1149.7,665.0 L1151.2,664.5 L1152.0,664.2 M1173.4,656.6 L1175.1,656.0 L1176.7,655.4 L1178.3,654.8 L1179.9,654.2 L1181.4,653.6 L1182.8,653.1 L1184.6,652.4 L1186.2,651.8 L1187.6,651.2 L1188.2,651.0" fill="none" stroke="#ff3f3f" stroke-width="4.4" stroke-linecap="round" stroke-linejoin="round" clip-path="url(#cc)"/>
<rect x="262.60" y="532.80" width="928.60" height="537.30" fill="none" stroke="#000" stroke-width="2.3"/>
<ellipse cx="360.75" cy="752.4" rx="15.3" ry="9.1" fill="none" stroke="#000" stroke-width="2.6"/>
<ellipse cx="838.6" cy="854.3" rx="15.2" ry="9.1" fill="none" stroke="#000" stroke-width="2.6"/>
<text x="383.00" y="752.30" font-size="31" font-weight="bold" font-style="normal" text-anchor="start">S</text>
<text x="400.50" y="763.80" font-size="19" font-weight="bold" font-style="normal" text-anchor="start">11</text>
<text x="865.50" y="854.40" font-size="31" font-weight="bold" font-style="normal" text-anchor="start">S</text>
<text x="882.20" y="866.20" font-size="19" font-weight="bold" font-style="normal" text-anchor="start">21</text>
<line x1="850.00" y1="975.00" x2="925.00" y2="975.00" stroke="#000" stroke-width="2.6" stroke-linecap="round"/>
<line x1="850.50" y1="1015.50" x2="865.80" y2="1015.50" stroke="#ff3f3f" stroke-width="4.3" stroke-linecap="round"/>
<line x1="887.00" y1="1015.50" x2="902.50" y2="1015.50" stroke="#ff3f3f" stroke-width="4.3" stroke-linecap="round"/>
<line x1="924.30" y1="1015.50" x2="924.50" y2="1015.50" stroke="#ff3f3f" stroke-width="4.3" stroke-linecap="round"/>
<text transform="translate(932.50 986.00) scale(1 1.060)" font-size="32.4" font-weight="normal" font-style="normal" text-anchor="start">Circuit Simulation</text>
<text transform="translate(932.50 1026.00) scale(1 1.060)" font-size="32.4" font-weight="normal" font-style="normal" text-anchor="start">EM Simulation</text>
<text x="730.50" y="1151.00" font-size="33" font-weight="bold" font-style="normal" text-anchor="middle">Frequency (GHz)</text>
<text x="704.50" y="1205.50" font-size="30.5" font-weight="normal" font-style="normal" text-anchor="middle">(c)</text>
<text transform="translate(179.1,825.9) rotate(-90)" text-anchor="middle" font-size="37.3" font-weight="bold">S-Parameters (dB)</text>
</svg>
</body></html>
